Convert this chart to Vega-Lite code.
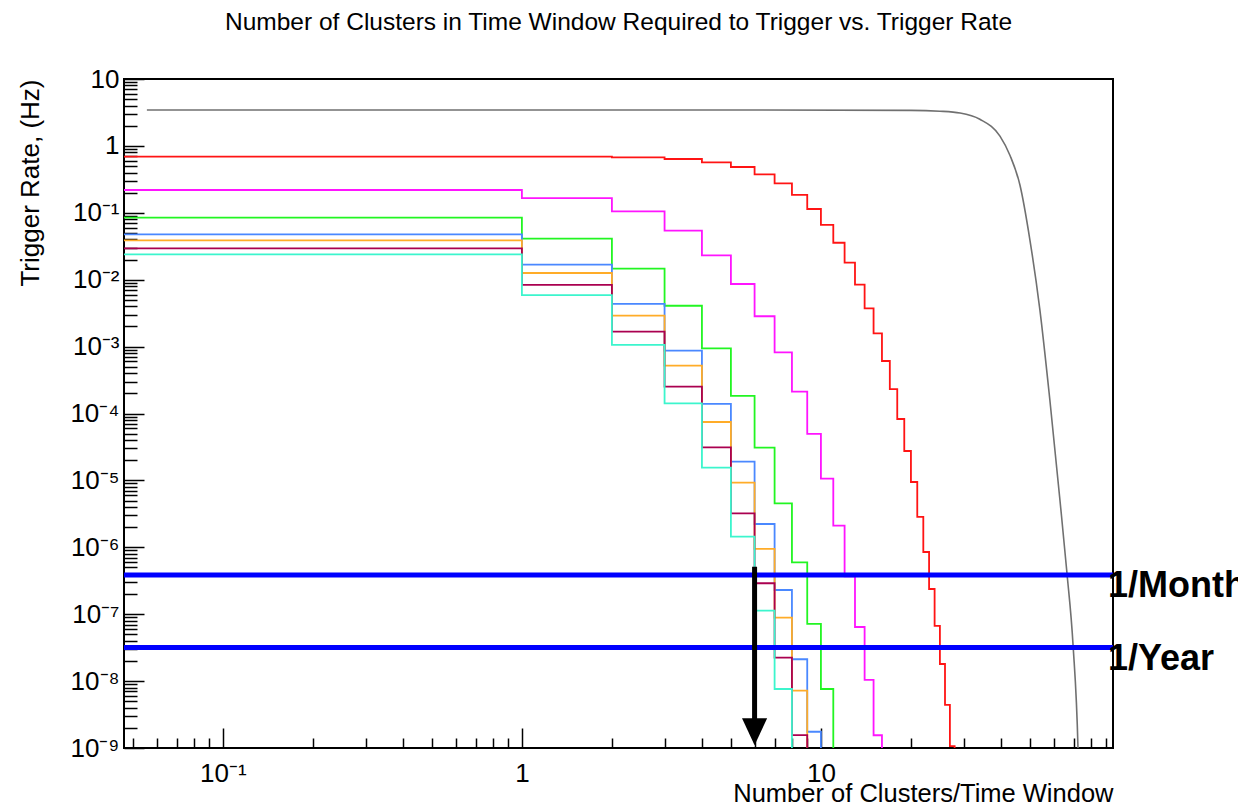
{
  "$schema": "https://vega.github.io/schema/vega-lite/v6.json",
  "width": 989,
  "height": 669,
  "autosize": "none",
  "padding": {"left": 124, "top": 79, "right": 125, "bottom": 59},
  "background": "#ffffff",
  "config": {
    "view": {"stroke": "#000000", "strokeWidth": 2},
    "font": "Liberation Sans",
    "axis": {
      "grid": false,
      "domain": false,
      "labelFont": "Liberation Sans",
      "labelColor": "#000000",
      "labelFontSize": 26,
      "tickColor": "#000000",
      "tickWidth": 1.5,
      "titleFont": "Liberation Sans",
      "titleColor": "#000000",
      "titleFontWeight": "normal",
      "titleFontSize": 26
    }
  },
  "title": {
    "text": "Number of Clusters in Time Window Required to Trigger vs. Trigger Rate",
    "font": "Liberation Sans",
    "fontSize": 24.5,
    "fontWeight": "normal",
    "color": "#000000",
    "anchor": "middle",
    "baseline": "alphabetic",
    "offset": 12
  },
  "datasets": {
    "hist": [
      {"s": "red", "x": 0.04, "r": 0.690},
      {"s": "red", "x": 1, "r": 0.690},
      {"s": "red", "x": 2, "r": 0.676},
      {"s": "red", "x": 3, "r": 0.637},
      {"s": "red", "x": 4, "r": 0.568},
      {"s": "red", "x": 5, "r": 0.484},
      {"s": "red", "x": 6, "r": 0.376},
      {"s": "red", "x": 7, "r": 0.276},
      {"s": "red", "x": 8, "r": 0.185},
      {"s": "red", "x": 9, "r": 0.114},
      {"s": "red", "x": 10, "r": 0.0658},
      {"s": "red", "x": 11, "r": 0.0357},
      {"s": "red", "x": 12, "r": 0.0180},
      {"s": "red", "x": 13, "r": 0.00842},
      {"s": "red", "x": 14, "r": 0.00373},
      {"s": "red", "x": 15, "r": 0.00158},
      {"s": "red", "x": 16, "r": 0.000609},
      {"s": "red", "x": 17, "r": 0.000232},
      {"s": "red", "x": 18, "r": 0.0000827},
      {"s": "red", "x": 19, "r": 0.0000275},
      {"s": "red", "x": 20, "r": 0.00000946},
      {"s": "red", "x": 21, "r": 0.00000284},
      {"s": "red", "x": 22, "r": 8.51e-7},
      {"s": "red", "x": 23, "r": 2.38e-7},
      {"s": "red", "x": 24, "r": 6.67e-8},
      {"s": "red", "x": 25, "r": 1.80e-8},
      {"s": "red", "x": 26, "r": 4.40e-9},
      {"s": "red", "x": 27, "r": 1.07e-9},
      {"s": "red", "x": 28, "r": 1e-12},
      {"s": "magenta", "x": 0.04, "r": 0.219},
      {"s": "magenta", "x": 1, "r": 0.166},
      {"s": "magenta", "x": 2, "r": 0.105},
      {"s": "magenta", "x": 3, "r": 0.054},
      {"s": "magenta", "x": 4, "r": 0.0231},
      {"s": "magenta", "x": 5, "r": 0.00863},
      {"s": "magenta", "x": 6, "r": 0.00284},
      {"s": "magenta", "x": 7, "r": 0.000822},
      {"s": "magenta", "x": 8, "r": 0.000212},
      {"s": "magenta", "x": 9, "r": 0.0000495},
      {"s": "magenta", "x": 10, "r": 0.0000106},
      {"s": "magenta", "x": 11, "r": 0.00000211},
      {"s": "magenta", "x": 12, "r": 3.68e-7},
      {"s": "magenta", "x": 13, "r": 6.44e-8},
      {"s": "magenta", "x": 14, "r": 1.04e-8},
      {"s": "magenta", "x": 15, "r": 1.55e-9},
      {"s": "magenta", "x": 16, "r": 1e-12},
      {"s": "green", "x": 0.04, "r": 0.0845},
      {"s": "green", "x": 1, "r": 0.041},
      {"s": "green", "x": 2, "r": 0.0146},
      {"s": "green", "x": 3, "r": 0.00408},
      {"s": "green", "x": 4, "r": 0.000942},
      {"s": "green", "x": 5, "r": 0.000183},
      {"s": "green", "x": 6, "r": 0.0000308},
      {"s": "green", "x": 7, "r": 0.00000455},
      {"s": "green", "x": 8, "r": 5.97e-7},
      {"s": "green", "x": 9, "r": 7.15e-8},
      {"s": "green", "x": 10, "r": 7.62e-9},
      {"s": "green", "x": 11, "r": 1e-12},
      {"s": "blue", "x": 0.04, "r": 0.0476},
      {"s": "blue", "x": 1, "r": 0.0168},
      {"s": "blue", "x": 2, "r": 0.00434},
      {"s": "blue", "x": 3, "r": 0.000869},
      {"s": "blue", "x": 4, "r": 0.000139},
      {"s": "blue", "x": 5, "r": 0.0000191},
      {"s": "blue", "x": 6, "r": 0.00000223},
      {"s": "blue", "x": 7, "r": 2.30e-7},
      {"s": "blue", "x": 8, "r": 2.12e-8},
      {"s": "blue", "x": 9, "r": 1.75e-9},
      {"s": "blue", "x": 10, "r": 1e-12},
      {"s": "orange", "x": 0.04, "r": 0.0388},
      {"s": "orange", "x": 1, "r": 0.0126},
      {"s": "orange", "x": 2, "r": 0.00290},
      {"s": "orange", "x": 3, "r": 0.000519},
      {"s": "orange", "x": 4, "r": 0.0000746},
      {"s": "orange", "x": 5, "r": 0.00000925},
      {"s": "orange", "x": 6, "r": 9.44e-7},
      {"s": "orange", "x": 7, "r": 8.87e-8},
      {"s": "orange", "x": 8, "r": 7.19e-9},
      {"s": "orange", "x": 9, "r": 1e-12},
      {"s": "maroon", "x": 0.04, "r": 0.0294},
      {"s": "maroon", "x": 1, "r": 0.00834},
      {"s": "maroon", "x": 2, "r": 0.00167},
      {"s": "maroon", "x": 3, "r": 0.000252},
      {"s": "maroon", "x": 4, "r": 0.0000312},
      {"s": "maroon", "x": 5, "r": 0.00000322},
      {"s": "maroon", "x": 6, "r": 2.90e-7},
      {"s": "maroon", "x": 7, "r": 2.24e-8},
      {"s": "maroon", "x": 8, "r": 1.56e-9},
      {"s": "maroon", "x": 9, "r": 1e-12},
      {"s": "cyan", "x": 0.04, "r": 0.0239},
      {"s": "cyan", "x": 1, "r": 0.00590},
      {"s": "cyan", "x": 2, "r": 0.00106},
      {"s": "cyan", "x": 3, "r": 0.000142},
      {"s": "cyan", "x": 4, "r": 0.0000155},
      {"s": "cyan", "x": 5, "r": 0.00000144},
      {"s": "cyan", "x": 6, "r": 1.13e-7},
      {"s": "cyan", "x": 7, "r": 7.62e-9},
      {"s": "cyan", "x": 8, "r": 1e-12}
    ],
    "gray": [
      {"x": 0.0557, "r": 3.44},
      {"x": 5, "r": 3.44},
      {"x": 20, "r": 3.40},
      {"x": 25, "r": 3.30},
      {"x": 29.2, "r": 3.1},
      {"x": 34, "r": 2.5},
      {"x": 39.7, "r": 1.4},
      {"x": 42.9, "r": 0.72},
      {"x": 46.3, "r": 0.26},
      {"x": 50, "r": 0.0392},
      {"x": 54, "r": 0.00352},
      {"x": 58.3, "r": 0.000159},
      {"x": 63, "r": 0.0000051},
      {"x": 66.5, "r": 4.13e-7},
      {"x": 69.7, "r": 3.47e-8},
      {"x": 72.4, "r": 1e-9},
      {"x": 74, "r": 1e-11}
    ],
    "levels": [
      {"label": "1/Month", "r": 3.86e-7, "xl": 91.2},
      {"label": "1/Year", "r": 3.17e-8, "xl": 91.2}
    ],
    "arrow": [
      {"x": 6, "top": 5.1e-7, "bottom": 2.4e-9, "head": 1.75e-9}
    ]
  },
  "layer": [
    {
      "data": {"name": "hist"},
      "mark": {"type": "line", "interpolate": "step-after", "clip": true, "strokeWidth": 1.8},
      "encoding": {
        "x": {
          "field": "x", "type": "quantitative",
          "scale": {"type": "log", "domain": [0.0467, 94.8], "nice": false},
          "axis": {
            "orient": "bottom",
            "values": [0.1, 1, 10],
            "labelExpr": "['10⁻¹','1','10'][round(log(datum.value)/LN10)+1]",
            "tickSize": -20,
            "labelPadding": 32,
            "title": "Number of Clusters/Time Window",
            "titleAnchor": "end",
            "titlePadding": -5,
            "titleFontSize": 25.5
          }
        },
        "y": {
          "field": "r", "type": "quantitative",
          "scale": {"type": "log", "domain": [1e-9, 10], "nice": false},
          "axis": {
            "orient": "left",
            "values": [1e-9, 1e-8, 1e-7, 1e-6, 1e-5, 1e-4, 1e-3, 1e-2, 1e-1, 1, 10],
            "labelExpr": "['10⁻⁹','10⁻⁸','10⁻⁷','10⁻⁶','10⁻⁵','10⁻⁴','10⁻³','10⁻²','10⁻¹','1','10'][round(log(datum.value)/LN10)+9]",
            "tickSize": -20,
            "labelPadding": 25,
            "title": "Trigger Rate, (Hz)",
            "titleAnchor": "end",
            "titlePadding": 26
          }
        },
        "color": {
          "field": "s", "type": "nominal",
          "scale": {
            "domain": ["red", "magenta", "green", "blue", "orange", "maroon", "cyan"],
            "range": ["#ff1414", "#ff14ff", "#22f522", "#4a88ff", "#ffac28", "#aa0050", "#3cf5cd"]
          },
          "legend": null
        }
      }
    },
    {
      "data": {"name": "gray"},
      "mark": {"type": "line", "interpolate": "monotone", "clip": true, "strokeWidth": 1.6, "color": "#707070"},
      "encoding": {
        "x": {"field": "x", "type": "quantitative", "scale": {"type": "log", "domain": [0.0467, 94.8], "nice": false}, "axis": null},
        "y": {"field": "r", "type": "quantitative", "scale": {"type": "log", "domain": [1e-9, 10], "nice": false}, "axis": null}
      }
    },
    {
      "data": {"name": "levels"},
      "mark": {"type": "rule", "color": "#0000ff", "strokeWidth": 5},
      "encoding": {
        "y": {
          "field": "r", "type": "quantitative",
          "scale": {"type": "log", "domain": [1e-9, 10], "nice": false},
          "axis": {
            "orient": "left",
            "values": [2e-9,3e-9,4e-9,5e-9,6e-9,7e-9,8e-9,9e-9,2e-8,3e-8,4e-8,5e-8,6e-8,7e-8,8e-8,9e-8,2e-7,3e-7,4e-7,5e-7,6e-7,7e-7,8e-7,9e-7,2e-6,3e-6,4e-6,5e-6,6e-6,7e-6,8e-6,9e-6,2e-5,3e-5,4e-5,5e-5,6e-5,7e-5,8e-5,9e-5,2e-4,3e-4,4e-4,5e-4,6e-4,7e-4,8e-4,9e-4,0.002,0.003,0.004,0.005,0.006,0.007,0.008,0.009,0.02,0.03,0.04,0.05,0.06,0.07,0.08,0.09,0.2,0.3,0.4,0.5,0.6,0.7,0.8,0.9,2,3,4,5,6,7,8,9],
            "labels": false,
            "tickSize": -13,
            "title": null
          }
        }
      }
    },
    {
      "data": {"name": "levels"},
      "mark": {"type": "text", "align": "left", "baseline": "alphabetic", "dy": 22, "fontSize": 36, "fontWeight": "bold", "font": "Liberation Sans", "color": "#000000", "clip": false},
      "encoding": {
        "x": {"field": "xl", "type": "quantitative", "scale": {"type": "log", "domain": [0.0467, 94.8], "nice": false}, "axis": null},
        "y": {"field": "r", "type": "quantitative", "scale": {"type": "log", "domain": [1e-9, 10], "nice": false}, "axis": null},
        "text": {"field": "label"}
      }
    },
    {
      "data": {"name": "arrow"},
      "mark": {"type": "rule", "color": "#000000", "strokeWidth": 5},
      "encoding": {
        "x": {
          "field": "x", "type": "quantitative",
          "scale": {"type": "log", "domain": [0.0467, 94.8], "nice": false},
          "axis": {
            "orient": "bottom",
            "values": [0.05,0.06,0.07,0.08,0.09,0.2,0.3,0.4,0.5,0.6,0.7,0.8,0.9,2,3,4,5,6,7,8,9,20,30,40,50,60,70,80,90],
            "labels": false,
            "tickSize": -10,
            "title": null
          }
        },
        "y": {"field": "top", "type": "quantitative", "scale": {"type": "log", "domain": [1e-9, 10], "nice": false}, "axis": null},
        "y2": {"field": "bottom"}
      }
    },
    {
      "data": {"name": "arrow"},
      "mark": {"type": "point", "shape": "M-0.93,-1L0.93,-1L0,1Z", "size": 729, "filled": true, "color": "#000000", "opacity": 1, "strokeWidth": 0},
      "encoding": {
        "x": {"field": "x", "type": "quantitative", "scale": {"type": "log", "domain": [0.0467, 94.8], "nice": false}, "axis": null},
        "y": {"field": "head", "type": "quantitative", "scale": {"type": "log", "domain": [1e-9, 10], "nice": false}, "axis": null}
      }
    }
  ],
  "resolve": {"axis": {"x": "independent", "y": "independent"}}
}
